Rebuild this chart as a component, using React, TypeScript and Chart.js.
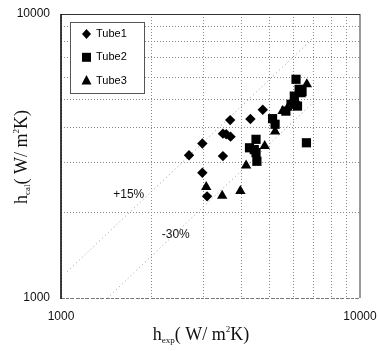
import React, { useEffect, useRef } from 'react';
import { Chart, registerables } from 'chart.js';

Chart.register(...registerables);

// Tube1 (diamonds): [h_exp, h_cal]
const tube1X = [2680, 2970, 2970, 3080, 3480, 3480, 3570, 3690, 3680, 4300, 4730];
const tube1Y = [3180, 3500, 2760, 2280, 3160, 3790, 3770, 3700, 4230, 4270, 4600];

// Tube2 (squares)
const tube2X = [6110, 6400, 6260, 6030, 5880, 6180, 5650, 5100, 5200, 4490, 4270, 4430, 4490, 4520, 6620];
const tube2Y = [5890, 5330, 5430, 5140, 4810, 4740, 4550, 4280, 4090, 3620, 3380, 3330, 3250, 3030, 3520];

// Tube3 (triangles)
const tube3X = [6640, 6340, 6110, 5730, 5510, 5200, 4800, 4160, 3060, 3460, 3980];
const tube3Y = [5660, 5220, 4940, 4680, 4550, 3860, 3430, 2930, 2460, 2290, 2380];

// Error band lines
const upperLineX = [1050, 7000];
const upperLineY = [1240, 8260];
const lowerLineX = [1430, 7000];
const lowerLineY = [1000, 4900];

const bandLabels = ['+15%', '-30%'];
const bandLabelX = [1685, 2420];
const bandLabelY = [2310, 1670];

const seriesNames = ['Tube1', 'Tube2', 'Tube3'];
const axisMin = 1000;
const axisMax = 10000;
const gridValues = [1000, 2000, 3000, 4000, 5000, 6000, 7000, 8000, 9000, 10000];
const tickLabels = [1000, 10000];

const toPts = (xs: number[], ys: number[]) => xs.map((x, i) => ({ x, y: ys[i] }));

type Part = { t: string; kind: 'n' | 'sub' | 'sup' };

function drawRich(ctx: CanvasRenderingContext2D, parts: Part[], cx: number, cy: number) {
  const main = '18px "Liberation Serif", serif';
  const small = '9px "Liberation Serif", serif';
  let total = 0;
  const widths = parts.map((p) => {
    ctx.font = p.kind === 'n' ? main : small;
    const w = ctx.measureText(p.t).width;
    total += w;
    return w;
  });
  let x = cx - total / 2;
  ctx.textAlign = 'left';
  ctx.textBaseline = 'alphabetic';
  ctx.fillStyle = '#111';
  parts.forEach((p, i) => {
    ctx.font = p.kind === 'n' ? main : small;
    const dy = p.kind === 'sub' ? 3 : p.kind === 'sup' ? -8 : 0;
    ctx.fillText(p.t, x, cy + dy);
    x += widths[i];
  });
}

const setTicks = (s: any) => {
  s.ticks = gridValues.map((v) => ({ value: v, major: v === 1000 || v === 10000 }));
};

const framePlugin = {
  id: 'frame',
  beforeDatasetsDraw(chart: any) {
    const { ctx, chartArea: a } = chart;
    ctx.save();
    // bottom (dotted)
    ctx.strokeStyle = '#777';
    ctx.lineWidth = 1;
    ctx.setLineDash([3, 2]);
    ctx.beginPath();
    ctx.moveTo(a.left, a.bottom + 0.5);
    ctx.lineTo(a.right, a.bottom + 0.5);
    ctx.stroke();
    ctx.setLineDash([]);
    // right
    ctx.strokeStyle = '#999';
    ctx.lineWidth = 2;
    ctx.beginPath();
    ctx.moveTo(a.right, a.top);
    ctx.lineTo(a.right, a.bottom);
    ctx.stroke();
    // top
    ctx.strokeStyle = '#333';
    ctx.lineWidth = 1;
    ctx.beginPath();
    ctx.moveTo(a.left, a.top + 0.5);
    ctx.lineTo(a.right, a.top + 0.5);
    ctx.stroke();
    // left
    ctx.strokeStyle = '#000';
    ctx.lineWidth = 1.5;
    ctx.beginPath();
    ctx.moveTo(a.left, a.top);
    ctx.lineTo(a.left, a.bottom + 1);
    ctx.stroke();
    ctx.restore();
  },
  afterDraw(chart: any) {
    const { ctx, chartArea: a } = chart;
    const xs = chart.scales.x;
    const ys = chart.scales.y;
    ctx.save();
    // tick labels
    ctx.font = '12px "Liberation Sans", Arial, sans-serif';
    ctx.fillStyle = '#111';
    ctx.textAlign = 'center';
    ctx.textBaseline = 'middle';
    tickLabels.forEach((v) => {
      ctx.fillText(String(v), xs.getPixelForValue(v), a.bottom + 19);
    });
    ctx.textAlign = 'right';
    tickLabels.forEach((v) => {
      ctx.fillText(String(v), a.left - 11, ys.getPixelForValue(v));
    });

    // band labels
    ctx.textAlign = 'center';
    bandLabels.forEach((t, i) => {
      ctx.fillText(t, xs.getPixelForValue(bandLabelX[i]), ys.getPixelForValue(bandLabelY[i]));
    });

    // legend
    const lx = a.left + 9;
    const ly = a.top + 8;
    const lw = 74;
    const lh = 71;
    ctx.fillStyle = '#fff';
    ctx.fillRect(lx, ly, lw, lh);
    ctx.strokeStyle = '#555';
    ctx.lineWidth = 1;
    ctx.strokeRect(lx + 0.5, ly + 0.5, lw, lh);
    const styles = ['rectRot', 'rect', 'triangle'];
    seriesNames.forEach((name, i) => {
      const cy = ly + 12 + i * 23.3;
      const mx = lx + 16.5;
      ctx.fillStyle = '#000';
      ctx.beginPath();
      if (styles[i] === 'rectRot') {
        ctx.moveTo(mx, cy - 5);
        ctx.lineTo(mx + 4.5, cy);
        ctx.lineTo(mx, cy + 5);
        ctx.lineTo(mx - 4.5, cy);
      } else if (styles[i] === 'rect') {
        ctx.rect(mx - 4.5, cy - 4.5, 9, 9);
      } else {
        ctx.moveTo(mx, cy - 5.5);
        ctx.lineTo(mx + 5, cy + 4);
        ctx.lineTo(mx - 5, cy + 4);
      }
      ctx.closePath();
      ctx.fill();
      ctx.font = '11px "Liberation Sans", Arial, sans-serif';
      ctx.textAlign = 'left';
      ctx.textBaseline = 'middle';
      ctx.fillText(name, mx + 9.5, cy);
    });

    // axis titles
    drawRich(
      ctx,
      [
        { t: 'h', kind: 'n' },
        { t: 'exp', kind: 'sub' },
        { t: '( W/ m', kind: 'n' },
        { t: '2', kind: 'sup' },
        { t: 'K)', kind: 'n' },
      ],
      201,
      340
    );
    ctx.save();
    ctx.translate(27, 157);
    ctx.rotate(-Math.PI / 2);
    drawRich(
      ctx,
      [
        { t: 'h', kind: 'n' },
        { t: 'cal', kind: 'sub' },
        { t: '( W/ m', kind: 'n' },
        { t: '2', kind: 'sup' },
        { t: 'K)', kind: 'n' },
      ],
      0,
      0
    );
    ctx.restore();
    ctx.restore();
  },
};

export default function App() {
  const ref = useRef<HTMLCanvasElement | null>(null);
  useEffect(() => {
    document.body.style.margin = '0';
    const canvas = ref.current;
    if (!canvas) return;
    const chart = new Chart(canvas, {
      type: 'scatter',
      data: {
        datasets: [
          {
            label: seriesNames[0],
            data: toPts(tube1X, tube1Y),
            pointStyle: 'rectRot',
            pointRadius: 5.2,
            backgroundColor: '#000',
            borderColor: '#000',
            borderWidth: 0,
            order: 1,
          },
          {
            label: seriesNames[1],
            data: toPts(tube2X, tube2Y),
            pointStyle: 'rect',
            pointRadius: 6.5,
            backgroundColor: '#000',
            borderColor: '#000',
            borderWidth: 0,
            order: 1,
          },
          {
            label: seriesNames[2],
            data: toPts(tube3X, tube3Y),
            pointStyle: 'triangle',
            pointRadius: 6,
            backgroundColor: '#000',
            borderColor: '#000',
            borderWidth: 0,
            order: 1,
          },
          {
            label: '+15%',
            data: toPts(upperLineX, upperLineY),
            showLine: true,
            pointRadius: 0,
            borderColor: '#999',
            borderWidth: 1,
            borderDash: [1, 3],
            order: 2,
          },
          {
            label: '-30%',
            data: toPts(lowerLineX, lowerLineY),
            showLine: true,
            pointRadius: 0,
            borderColor: '#999',
            borderWidth: 1,
            borderDash: [1, 3],
            order: 2,
          },
        ],
      },
      options: {
        animation: false,
        responsive: false,
        devicePixelRatio: 1,
        layout: { padding: { top: 14, right: 19, left: 0, bottom: 0 } },
        plugins: { legend: { display: false }, tooltip: { enabled: false } },
        scales: {
          x: {
            type: 'logarithmic',
            min: axisMin,
            max: axisMax,
            afterBuildTicks: setTicks,
            afterFit: (s: any) => {
              s.height = 53;
            },
            grid: { color: '#888', lineWidth: 1, drawTicks: false },
            border: { display: false, dash: [1, 2] },
            ticks: { display: false },
          },
          y: {
            type: 'logarithmic',
            min: axisMin,
            max: axisMax,
            afterBuildTicks: setTicks,
            afterFit: (s: any) => {
              s.width = 61;
            },
            grid: { color: '#888', lineWidth: 1, drawTicks: false },
            border: { display: false, dash: [1, 2] },
            ticks: { display: false },
          },
        },
      },
      plugins: [framePlugin],
    } as any);
    return () => chart.destroy();
  }, []);
  return (
    <div style={{ width: 379, height: 351, background: '#fff' }}>
      <canvas ref={ref} width={379} height={351} style={{ width: 379, height: 351, display: 'block' }} />
    </div>
  );
}
